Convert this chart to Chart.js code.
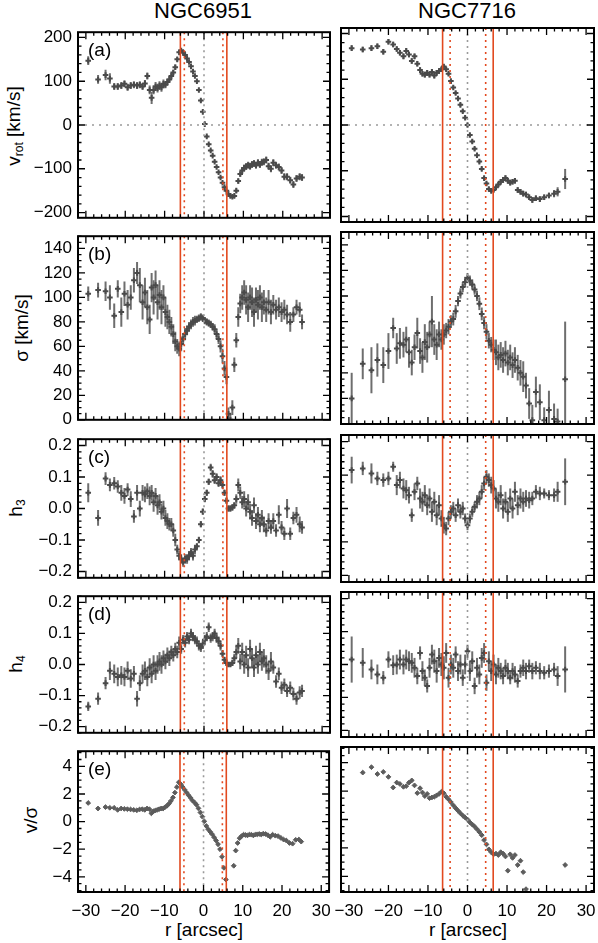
<!DOCTYPE html>
<html>
<head>
<meta charset="utf-8">
<script src="https://cdn.jsdelivr.net/npm/chart.js@4.4.1/dist/chart.umd.min.js"></script>
<style>
html, body { margin: 0; padding: 0; background: #fff; }
#wrap { position: relative; width: 598px; height: 943px; overflow: hidden; font-family: "Liberation Sans", Arial, sans-serif; }
#wrap canvas { position: absolute; }
.t { position: absolute; color: #000; white-space: nowrap; line-height: 1; }
.col { font-size: 22px; top: 0; transform: translateX(-50%); }
.xl { font-size: 19px; top: 920px; transform: translateX(-50%); }
.yl { font-size: 19px; transform: translate(-50%, -50%) rotate(-90deg); }
.yl sub { font-size: 12px; vertical-align: -3px; }
</style>
</head>
<body>
<div id="wrap">
  <div class="t col" style="left:203px">NGC6951</div>
  <div class="t col" style="left:467px">NGC7716</div>
  <div class="t xl" style="left:204px">r [arcsec]</div>
  <div class="t xl" style="left:468px">r [arcsec]</div>
  <div class="t yl" style="left:14px; top:126px">v<sub>rot</sub> [km/s]</div>
  <div class="t yl" style="left:21px; top:328px">σ [km/s]</div>
  <div class="t yl" style="left:16px; top:508px">h<sub>3</sub></div>
  <div class="t yl" style="left:16px; top:664px">h<sub>4</sub></div>
  <div class="t yl" style="left:30px; top:820px">v/σ</div>
</div>
<script>
// ---- NGC6951 (left column) ----
const rLeft = [-29.4, -26.9, -25.0, -23.9, -22.8, -21.9, -21.0, -20.2, -19.4, -18.6,
  -17.8, -17.0, -16.3, -15.6, -15.0, -14.4, -13.8, -13.3, -12.8, -12.3,
  -11.8, -11.3, -10.8, -10.3, -9.8, -9.3, -8.8, -8.3, -7.8, -7.3,
  -6.8, -6.3, -5.8, -5.3, -4.8, -4.3, -3.8, -3.3, -2.8, -2.3,
  -1.8, -1.3, -0.8, -0.3, 0.2, 0.7, 1.2, 1.7, 2.2, 2.7,
  3.2, 3.7, 4.2, 4.7, 5.2, 5.7, 6.2, 6.7, 7.2, 7.7,
  8.2, 8.7, 9.2, 9.7, 10.2, 10.7, 11.2, 11.7, 12.2, 12.7,
  13.2, 13.7, 14.2, 14.7, 15.2, 15.8, 16.4, 17.0, 17.6, 18.3,
  19.0, 19.7, 20.4, 21.1, 21.9, 22.7, 23.5, 24.3, 24.9];
const vrotLeft = [147, 104, 114, 106, 88, 88, 90, 94, 86, 90,
  92, 90, 92, 88, 95, 112, 80, 62, 80, 88,
  84, 90, 86, 94, 92, 98, 104, 112, 120, 132,
  150, 166, 170, 166, 160, 152, 144, 134, 122, 112,
  100, 80, 56, 30, 2, -26, -44, -58, -70, -84,
  -96, -108, -120, -132, -142, -150, -158, -162, -164, -162,
  -150, -128, -112, -104, -98, -95, -92, -94, -90, -88,
  -92, -86, -90, -85, -84, -80, -94, -100, -86, -92,
  -96, -104, -118, -118, -126, -136, -122, -118, -120];
const vrotErrLeft = [10, 10, 12, 12, 8, 8, 8, 8, 8, 8,
  8, 8, 8, 8, 8, 8, 10, 14, 10, 10,
  10, 10, 10, 10, 8, 8, 8, 8, 6, 6,
  5, 5, 4, 4, 4, 4, 3, 3, 3, 3,
  3, 3, 3, 3, 3, 3, 3, 3, 3, 3,
  3, 3, 3, 3, 3, 3, 3, 3, 3, 4,
  5, 6, 6, 8, 8, 8, 8, 8, 8, 8,
  8, 8, 8, 8, 8, 8, 8, 8, 8, 8,
  8, 8, 8, 8, 8, 8, 8, 8, 8];
const sigmaLeft = [103, 106, 105, 100, 85, 107, 88, 103, 94, 100,
  114, 120, 110, 96, 104, 92, 82, 108, 100, 110,
  96, 102, 92, 100, 88, 84, 80, 76, 70, 64,
  60, 58, 62, 66, 70, 73, 76, 78, 80, 81,
  82, 83, 84, 83, 81, 80, 79, 78, 76, 74,
  70, 66, 60, 52, 42, 35, 5, 0, 10, 45,
  65, 84, 95, 100, 104, 98, 92, 100, 96, 88,
  98, 94, 100, 92, 96, 90, 96, 88, 94, 90,
  92, 88, 90, 86, 80, 86, 92, 90, 80];
const sigmaErrLeft = [6, 6, 8, 10, 10, 7, 12, 10, 12, 10,
  10, 9, 14, 14, 12, 14, 12, 12, 14, 12,
  14, 12, 14, 10, 12, 10, 10, 8, 8, 8,
  6, 6, 6, 5, 5, 4, 4, 4, 4, 4,
  3, 3, 3, 3, 3, 3, 3, 3, 3, 4,
  4, 4, 5, 6, 6, 6, 5, 5, 6, 6,
  6, 8, 8, 10, 10, 12, 12, 10, 12, 12,
  10, 12, 10, 12, 10, 10, 10, 10, 8, 8,
  8, 8, 8, 8, 8, 6, 6, 6, 6];
const h3Left = [0.05, -0.03, 0.095, 0.075, 0.08, 0.07, 0.05, 0.04, 0.06, 0.03,
  -0.025, 0.05, 0.0, 0.05, 0.045, 0.055, 0.04, 0.05, 0.02, 0.04,
  0.01, 0.02, -0.01, 0.0, -0.03, -0.04, -0.05, -0.05, -0.07, -0.1,
  -0.13, -0.15, -0.16, -0.17, -0.16, -0.16, -0.15, -0.14, -0.15, -0.13,
  -0.12, -0.1, -0.05, -0.01, 0.03, 0.05, 0.085, 0.13, 0.11, 0.09,
  0.1, 0.08, 0.09, 0.075, 0.05, 0.025, 0.0, 0.0, 0.003, 0.01,
  0.03, 0.075, 0.05, 0.02, 0.03, 0.0, 0.02, -0.01, -0.03, 0.01,
  -0.04, -0.02, -0.05, -0.03, -0.05, -0.07, -0.04, -0.06, -0.04, -0.07,
  -0.02, -0.06, -0.08, 0.0, -0.08, -0.03, -0.02, -0.05, -0.06];
const h3ErrLeft = [0.03, 0.025, 0.02, 0.02, 0.02, 0.02, 0.025, 0.025, 0.02, 0.025,
  0.02, 0.025, 0.025, 0.025, 0.025, 0.025, 0.03, 0.025, 0.03, 0.025,
  0.03, 0.025, 0.025, 0.025, 0.025, 0.025, 0.02, 0.02, 0.02, 0.02,
  0.015, 0.015, 0.015, 0.015, 0.015, 0.015, 0.015, 0.015, 0.015, 0.015,
  0.01, 0.01, 0.01, 0.01, 0.01, 0.01, 0.01, 0.012, 0.012, 0.012,
  0.012, 0.012, 0.012, 0.012, 0.01, 0.01, 0.01, 0.01, 0.01, 0.01,
  0.015, 0.02, 0.02, 0.02, 0.025, 0.025, 0.025, 0.025, 0.025, 0.025,
  0.025, 0.025, 0.025, 0.025, 0.025, 0.02, 0.025, 0.02, 0.025, 0.02,
  0.03, 0.02, 0.02, 0.03, 0.02, 0.02, 0.025, 0.025, 0.02];
const h4Left = [-0.135, -0.11, -0.06, -0.02, -0.03, -0.04, -0.035, -0.04, -0.02, -0.045,
  -0.03, -0.11, -0.06, -0.03, -0.02, -0.04, -0.01, -0.03, 0.0, -0.02,
  0.0, 0.01, 0.0, 0.02, 0.01, 0.03, 0.02, 0.04, 0.03, 0.05,
  0.04, 0.07, 0.05, 0.08, 0.07, 0.09, 0.08, 0.1, 0.09, 0.08,
  0.075, 0.06, 0.055, 0.065, 0.08, 0.09, 0.12, 0.085, 0.09, 0.1,
  0.085, 0.075, 0.06, 0.035, 0.015, 0.005, 0.0, 0.0, 0.005, 0.02,
  0.04, 0.06, 0.01, 0.04, 0.0, 0.03, -0.01, 0.05, 0.02, -0.01,
  0.03, 0.0, 0.04, 0.01, 0.02, 0.0, -0.02, 0.01, -0.01, -0.055,
  -0.03, -0.075, -0.065, -0.085, -0.075, -0.095, -0.11, -0.09, -0.085];
const h4ErrLeft = [0.015, 0.02, 0.02, 0.03, 0.03, 0.03, 0.03, 0.03, 0.03, 0.03,
  0.025, 0.025, 0.025, 0.03, 0.03, 0.03, 0.03, 0.03, 0.03, 0.03,
  0.03, 0.03, 0.03, 0.025, 0.025, 0.025, 0.025, 0.02, 0.02, 0.02,
  0.02, 0.02, 0.015, 0.015, 0.015, 0.015, 0.015, 0.015, 0.015, 0.015,
  0.015, 0.015, 0.015, 0.015, 0.015, 0.015, 0.015, 0.015, 0.015, 0.015,
  0.015, 0.015, 0.015, 0.012, 0.01, 0.01, 0.008, 0.008, 0.01, 0.015,
  0.02, 0.025, 0.025, 0.03, 0.03, 0.03, 0.03, 0.03, 0.03, 0.03,
  0.03, 0.03, 0.03, 0.03, 0.03, 0.03, 0.03, 0.03, 0.02, 0.02,
  0.02, 0.02, 0.02, 0.02, 0.02, 0.02, 0.02, 0.02, 0.02];
const vsLeft = [1.35, 0.95, 1.05, 1.0, 1.0, 0.85, 0.95, 0.92, 0.9, 0.88,
  0.85, 0.82, 0.88, 0.9, 0.85, 0.95, 0.9, 0.6, 0.75, 0.8,
  0.85, 0.9, 0.95, 0.95, 1.05, 1.15, 1.3, 1.5, 1.75, 2.1,
  2.5, 2.85, 2.7, 2.5, 2.3, 2.1, 1.9, 1.72, 1.52, 1.38,
  1.22, 0.96, 0.66, 0.36, 0.02, -0.32, -0.56, -0.74, -0.92, -1.14,
  -1.37, -1.64, -2.0, -2.55, -3.35, -4.2, null, null, null, -3.2,
  -2.1, -1.55, -1.2, -1.05, -0.95, -0.97, -1.0, -0.94, -0.95, -1.0,
  -0.94, -0.92, -0.9, -0.93, -0.88, -0.9, -0.98, -1.1, -0.95, -1.02,
  -1.05, -1.18, -1.3, -1.37, -1.55, -1.6, -1.32, -1.3, -1.45];
const solidLeft = [-6.0, 5.8];
const dottedLeft = [-5.0, 4.8];

// ---- NGC7716 (right column) ----
const rRight = [-29.3, -26.5, -24.3, -22.8, -21.3, -20.0, -18.8, -17.9, -17.1, -16.2,
  -15.5, -14.8, -14.1, -13.4, -12.7, -12.0, -11.4, -10.8, -10.2, -9.6,
  -9.0, -8.4, -7.8, -7.2, -6.6, -6.0, -5.4, -4.8, -4.2, -3.6,
  -3.0, -2.4, -1.8, -1.2, -0.6, 0.0, 0.6, 1.2, 1.8, 2.4,
  3.0, 3.6, 4.2, 4.8, 5.4, 6.0, 6.6, 7.2, 7.8, 8.4,
  9.0, 9.6, 10.2, 10.8, 11.4, 12.0, 12.7, 13.4, 14.1, 14.8,
  15.6, 16.4, 17.3, 18.3, 19.4, 20.6, 21.9, 22.8, 24.7];
const vrotRight = [168, 165, 168, 172, 160, 182, 176, 166, 158, 150,
  162, 154, 140, 150, 134, 120, 112, 110, 114, 110,
  116, 108, 114, 118, 122, 128, 122, 112, 96, 82,
  70, 58, 44, 30, 16, 0, -22, -36, -52, -66,
  -80, -96, -116, -128, -140, -144, -142, -136, -130, -124,
  -120, -116, -122, -126, -124, -122, -142, -146, -150, -152,
  -158, -164, -160, -162, -158, -154, -150, -146, -118];
const vrotErrRight = [6, 6, 6, 6, 6, 6, 6, 6, 6, 6,
  6, 6, 6, 6, 6, 6, 6, 6, 6, 6,
  6, 6, 6, 6, 5, 5, 5, 4, 4, 4,
  4, 4, 4, 4, 4, 4, 4, 4, 4, 4,
  4, 4, 4, 4, 4, 4, 4, 5, 6, 6,
  6, 6, 6, 6, 6, 6, 6, 6, 6, 6,
  6, 6, 6, 6, 6, 6, 8, 10, 22];
const sigmaRight = [20, 47, 42, 50, 46, 57, 75, 59, 63, 62,
  66, 56, 48, 60, 71, 57, 52, 64, 60, 70,
  80, 66, 62, 70, 66, 70, 73, 76, 80, 82,
  88, 96, 102, 107, 111, 114, 112, 109, 105, 100,
  94, 86, 79, 72, 65, 62, 58, 56, 52, 54,
  50, 55, 48, 52, 46, 50, 44, 40, 37, 30,
  16, 3, 25, 17, 3, 11, 4, 2, 35];
const sigmaErrRight = [20, 12, 18, 13, 14, 14, 8, 12, 12, 10,
  10, 12, 10, 10, 12, 10, 12, 14, 12, 10,
  20, 12, 12, 10, 8, 8, 6, 6, 5, 5,
  5, 4, 4, 4, 4, 4, 4, 4, 4, 4,
  5, 5, 5, 6, 6, 6, 8, 10, 10, 10,
  10, 10, 10, 10, 10, 10, 10, 10, 12, 10,
  12, 12, 12, 14, 10, 15, 12, 10, 45];
const h3Right = [0.115, 0.12, 0.105, 0.09, 0.085, 0.09, 0.125, 0.07, 0.085, 0.06,
  0.055, 0.04, -0.02, 0.05, 0.075, 0.03, 0.02, 0.04, 0.01, 0.03,
  -0.01, 0.02, -0.02, 0.01, -0.03, -0.05, -0.06, -0.03, -0.01, 0.0,
  -0.02, 0.01, -0.01, 0.0, -0.03, -0.05, -0.03, -0.01, 0.005, 0.02,
  0.03, 0.05, 0.075, 0.095, 0.085, 0.07, 0.06, 0.03, 0.02, 0.04,
  0.0, 0.02, -0.01, 0.03, 0.0, 0.05, 0.01, 0.03, 0.02, 0.03,
  0.025, 0.03, 0.05, 0.045, 0.045, 0.04, 0.04, 0.05, 0.08];
const h3ErrRight = [0.04, 0.02, 0.03, 0.02, 0.02, 0.02, 0.015, 0.03, 0.025, 0.03,
  0.03, 0.025, 0.02, 0.025, 0.02, 0.03, 0.03, 0.03, 0.03, 0.03,
  0.03, 0.03, 0.03, 0.03, 0.025, 0.025, 0.02, 0.02, 0.02, 0.02,
  0.02, 0.02, 0.02, 0.02, 0.015, 0.015, 0.015, 0.015, 0.015, 0.02,
  0.02, 0.02, 0.02, 0.02, 0.02, 0.025, 0.025, 0.03, 0.03, 0.03,
  0.03, 0.03, 0.03, 0.03, 0.03, 0.03, 0.03, 0.03, 0.03, 0.025,
  0.025, 0.02, 0.02, 0.02, 0.015, 0.015, 0.02, 0.03, 0.07];
const h4Right = [0.015, 0.005, -0.015, -0.03, -0.04, 0.015, -0.002, 0.0, 0.015, 0.0,
  0.015, 0.01, 0.005, -0.01, -0.035, 0.035, -0.02, -0.04, -0.065, -0.01,
  0.03, 0.01, -0.02, 0.02, 0.0, -0.01, 0.035, -0.04, 0.0, -0.01,
  0.03, -0.02, 0.0, -0.04, 0.0, 0.04, -0.02, 0.01, -0.065, -0.01,
  -0.03, 0.02, 0.035, -0.055, 0.01, -0.02, 0.0, -0.03, -0.01, -0.02,
  -0.035, -0.01, -0.02, -0.04, -0.02, -0.03, -0.05, -0.02, -0.01, -0.02,
  -0.005, -0.02, -0.01, -0.02, -0.025, -0.02, -0.015, -0.035, -0.015];
const h4ErrRight = [0.07, 0.045, 0.03, 0.03, 0.02, 0.025, 0.03, 0.03, 0.03, 0.03,
  0.03, 0.03, 0.03, 0.03, 0.025, 0.02, 0.03, 0.025, 0.02, 0.03,
  0.03, 0.035, 0.035, 0.03, 0.035, 0.035, 0.03, 0.03, 0.03, 0.03,
  0.025, 0.03, 0.03, 0.025, 0.03, 0.02, 0.03, 0.03, 0.025, 0.03,
  0.03, 0.03, 0.03, 0.025, 0.03, 0.03, 0.03, 0.03, 0.03, 0.025,
  0.025, 0.025, 0.025, 0.02, 0.025, 0.025, 0.02, 0.02, 0.025, 0.025,
  0.02, 0.025, 0.02, 0.025, 0.02, 0.02, 0.02, 0.03, 0.07];
const vsRight = [null, 3.3, 3.68, 3.2, 3.35, 3.0, 2.25, 2.6, 2.5, 2.3,
  2.35, 2.6, 2.75, 2.4, 1.86, 2.2, 1.9, 1.65, 1.8, 1.5,
  1.55, 1.6, 1.7, 1.8, 1.95, 1.85, 1.6, 1.42, 1.22, 1.0,
  0.8, 0.62, 0.44, 0.28, 0.14, 0.0, -0.2, -0.35, -0.5, -0.68,
  -0.88, -1.1, -1.45, -1.75, -2.1, -2.3, -2.45, -2.4, -2.5, -2.3,
  -2.4, -2.6, -3.6, -2.45, -2.7, -2.5, -3.2, -2.9, -3.7, -4.9,
  null, null, null, null, null, null, null, null, -3.2];
const solidRight = [-6.3, 6.5];
const dottedRight = [-4.4, 4.6];

// ---- axes ----
const xRange = [-32, 32];
const rowAxes = [
  { min: -212, max: 212, step: 100, minor: 20, dec: 0, label: '(a)' },
  { min: 0, max: 150, step: 20, minor: 5, dec: 0, label: '(b)' },
  { min: -0.22, max: 0.22, step: 0.1, minor: 0.02, dec: 1, label: '(c)' },
  { min: -0.22, max: 0.22, step: 0.1, minor: 0.02, dec: 1, label: '(d)' },
  { min: -5.1, max: 5.1, step: 2, minor: 0.5, dec: 0, label: '(e)' }
];
const rowBox = [[28, 222], [232, 424], [435, 582], [592, 737], [747, 892]];

const RED = '#e2491f';
const FONT = 'Liberation Sans';

const fmt = dec => v => {
  const s = Math.abs(v).toFixed(dec);
  return (v < -1e-9 ? '\u2212' : '') + s;
};

// error bars, reference lines, IDL-style frame and inward ticks
const idlPlugin = {
  id: 'idl',
  beforeDatasetsDraw(chart, args, o) {
    const { ctx, chartArea: a, scales: { x, y } } = chart;
    ctx.save();
    ctx.beginPath();
    ctx.rect(a.left, a.top, a.right - a.left, a.bottom - a.top);
    ctx.clip();
    ctx.strokeStyle = '#6e6e6e';
    ctx.lineWidth = 2;
    chart.data.datasets.forEach(ds => {
      if (!ds.errors) return;
      ds.data.forEach((p, i) => {
        const e = ds.errors[i];
        if (p.y == null || e == null) return;
        const px = x.getPixelForValue(p.x);
        ctx.beginPath();
        ctx.moveTo(px, y.getPixelForValue(p.y - e));
        ctx.lineTo(px, y.getPixelForValue(p.y + e));
        ctx.stroke();
      });
    });
    ctx.restore();
  },
  afterDatasetsDraw(chart, args, o) {
    const { ctx, chartArea: a, scales: { x, y } } = chart;
    ctx.save();
    ctx.lineWidth = 1.6;
    const vline = (v, color, dash) => {
      const px = x.getPixelForValue(v);
      ctx.strokeStyle = color;
      ctx.setLineDash(dash);
      ctx.beginPath(); ctx.moveTo(px, a.top); ctx.lineTo(px, a.bottom); ctx.stroke();
    };
    if (o.hzero) {
      const py = y.getPixelForValue(0);
      ctx.strokeStyle = '#9a9a9a';
      ctx.setLineDash([2, 5]);
      ctx.beginPath(); ctx.moveTo(a.left, py); ctx.lineTo(a.right, py); ctx.stroke();
    }
    vline(0, '#9a9a9a', [2, 4]);
    o.dotted.forEach(v => vline(v, RED, [2, 4]));
    o.solid.forEach(v => vline(v, RED, []));
    ctx.restore();
  },
  afterDraw(chart, args, o) {
    const { ctx, chartArea: a, scales: { x, y } } = chart;
    ctx.save();
    ctx.strokeStyle = '#000';
    ctx.lineWidth = 1.3;
    const vals = (s, step) => {
      const out = [];
      const n0 = Math.ceil(s.min / step - 1e-6), n1 = Math.floor(s.max / step + 1e-6);
      for (let n = n0; n <= n1; n++) out.push(n * step);
      return out;
    };
    const isMajor = (v, step) => Math.abs(v / step - Math.round(v / step)) < 1e-6;
    vals(x, 2).forEach(v => {
      const len = isMajor(v, 10) ? 7 : 3.5;
      const px = x.getPixelForValue(v);
      ctx.beginPath();
      ctx.moveTo(px, a.bottom); ctx.lineTo(px, a.bottom - len);
      ctx.moveTo(px, a.top); ctx.lineTo(px, a.top + len);
      ctx.stroke();
    });
    vals(y, o.minor).forEach(v => {
      const len = isMajor(v, o.step) ? 7 : 3.5;
      const py = y.getPixelForValue(v);
      ctx.beginPath();
      ctx.moveTo(a.left, py); ctx.lineTo(a.left + len, py);
      ctx.moveTo(a.right, py); ctx.lineTo(a.right - len, py);
      ctx.stroke();
    });
    ctx.lineWidth = 2;
    ctx.strokeRect(a.left, a.top, a.right - a.left, a.bottom - a.top);
    if (o.label) {
      ctx.fillStyle = '#000';
      ctx.font = '19px "' + FONT + '"';
      ctx.textBaseline = 'middle';
      ctx.fillText(o.label, a.left + 10, a.top + 19);
    }
    ctx.restore();
  }
};

const panels = [
  { col: 0, row: 0, r: rLeft, v: vrotLeft, e: vrotErrLeft },
  { col: 0, row: 1, r: rLeft, v: sigmaLeft, e: sigmaErrLeft },
  { col: 0, row: 2, r: rLeft, v: h3Left, e: h3ErrLeft },
  { col: 0, row: 3, r: rLeft, v: h4Left, e: h4ErrLeft },
  { col: 0, row: 4, r: rLeft, v: vsLeft, e: null },
  { col: 1, row: 0, r: rRight, v: vrotRight, e: vrotErrRight },
  { col: 1, row: 1, r: rRight, v: sigmaRight, e: sigmaErrRight },
  { col: 1, row: 2, r: rRight, v: h3Right, e: h3ErrRight },
  { col: 1, row: 3, r: rRight, v: h4Right, e: h4ErrRight },
  { col: 1, row: 4, r: rRight, v: vsRight, e: null }
];

const wrap = document.getElementById('wrap');

panels.forEach(p => {
  const ax = rowAxes[p.row];
  const [y0, y1] = rowBox[p.row];
  const last = p.row === 4;
  const left = p.col === 0 ? 0 : 300;
  const width = p.col === 0 ? 340 : 310;
  const top = y0 - 12;
  const height = (y1 - y0) + 12 + (last ? 44 : 12);
  const canvas = document.createElement('canvas');
  canvas.width = width;
  canvas.height = height;
  canvas.style.left = left + 'px';
  canvas.style.top = top + 'px';
  canvas.style.width = width + 'px';
  canvas.style.height = height + 'px';
  wrap.appendChild(canvas);

  const ds = {
    data: p.r.map((x, i) => ({ x: x, y: p.v[i] })),
    errors: p.e,
    showLine: false
  };
  if (p.e) {
    Object.assign(ds, { pointStyle: 'cross', pointRadius: 2.8, borderWidth: 2, borderColor: '#4a4a4a', backgroundColor: '#4a4a4a' });
  } else {
    Object.assign(ds, { pointStyle: 'rectRot', pointRadius: 2.4, borderWidth: 1, borderColor: '#5c5c5c', backgroundColor: '#5c5c5c' });
  }

  new Chart(canvas.getContext('2d'), {
    type: 'scatter',
    data: { datasets: [ds] },
    plugins: [idlPlugin],
    options: {
      responsive: false,
      animation: false,
      events: [],
      layout: { padding: { left: 0, right: p.col === 0 ? 10 : 16, top: 12, bottom: last ? 0 : 12 } },
      plugins: {
        legend: { display: false },
        tooltip: { enabled: false },
        idl: {
          step: ax.step, minor: ax.minor,
          label: p.col === 0 ? ax.label : null,
          hzero: p.row === 0,
          solid: p.col === 0 ? solidLeft : solidRight,
          dotted: p.col === 0 ? dottedLeft : dottedRight
        }
      },
      scales: {
        x: {
          type: 'linear', min: xRange[0], max: xRange[1],
          grid: { display: false, drawTicks: false },
          border: { display: false },
          ticks: {
            display: last, stepSize: 10, includeBounds: false, autoSkip: false, maxRotation: 0,
            padding: 9, color: '#000', font: { family: FONT, size: 17 }, callback: fmt(0)
          },
          afterFit: s => { s.height = last ? 44 : 0; }
        },
        y: {
          type: 'linear', min: ax.min, max: ax.max,
          grid: { display: false, drawTicks: false },
          border: { display: false },
          ticks: {
            display: p.col === 0, stepSize: ax.step, includeBounds: false, autoSkip: false,
            padding: 6, color: '#000', font: { family: FONT, size: 17 }, callback: fmt(ax.dec)
          },
          afterFit: s => { s.width = p.col === 0 ? 78 : 41; }
        }
      }
    }
  });
});
</script>
</body>
</html>
